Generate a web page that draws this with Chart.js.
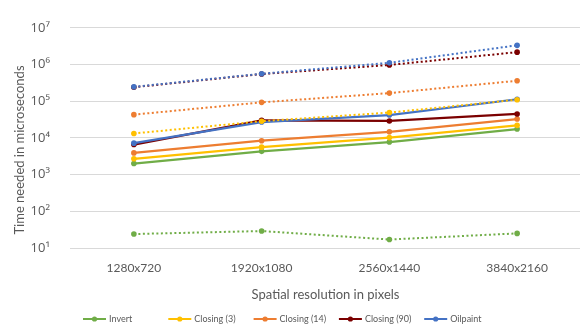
<!DOCTYPE html>
<html>
<head>
<meta charset="utf-8">
<script src="https://cdn.jsdelivr.net/npm/chart.js@4/dist/chart.umd.min.js"></script>
<style>
  html, body { margin: 0; padding: 0; background: #ffffff; overflow: hidden; }
  #wrap { width: 585px; height: 329px; }
</style>
</head>
<body>
<div id="wrap"><canvas id="chart" width="585" height="329"></canvas></div>
<script>
// Image sizes on the horizontal axis
const resolutions = ['1280x720', '1920x1080', '2560x1440', '3840x2160'];

// Operations measured
const operations = ['Invert', 'Closing (3)', 'Closing (14)', 'Closing (90)', 'Oilpaint'];

// Run times in microseconds, solid lines (one array per operation)
const invertSolid     = [2000, 4300, 7700, 17400];
const closing3Solid   = [2700, 5600, 10200, 22000];
const closing14Solid  = [3900, 8400, 14700, 32600];
const closing90Solid  = [6600, 30000, 29000, 45000];
const oilpaintSolid   = [7200, 27000, 42000, 113000];

// Run times in microseconds, dotted lines
const invertDotted    = [24, 29, 17, 25];
const closing3Dotted  = [13200, 28500, 49000, 110000];
const closing14Dotted = [43000, 93000, 166000, 360000];
const closing90Dotted = [240000, 550000, 970000, 2170000];
const oilpaintDotted  = [246000, 560000, 1110000, 3330000];

// Decade ticks of the logarithmic axis and their labels
const decadeValues = [1e1, 1e2, 1e3, 1e4, 1e5, 1e6, 1e7];
const yTickLabels  = ['10¹', '10²', '10³', '10⁴', '10⁵', '10⁶', '10⁷'];

const colors = ['#70AD47', '#FFC000', '#ED7D31', '#7B0000', '#4472C4'];
const solidData  = [invertSolid, closing3Solid, closing14Solid, closing90Solid, oilpaintSolid];
const dottedData = [invertDotted, closing3Dotted, closing14Dotted, closing90Dotted, oilpaintDotted];

const FONT = 'Lato, "Open Sans", sans-serif';
const TICK_FONT = '"Open Sans", Lato, sans-serif';
const TEXT = '#595959';

function makeSet(label, data, color, dotted, order) {
  return {
    label: label,
    data: data,
    borderColor: color,
    backgroundColor: color,
    pointBackgroundColor: color,
    pointBorderColor: color,
    pointBorderWidth: 0,
    pointRadius: 2.8,
    borderWidth: dotted ? 2 : 2.25,
    borderDash: dotted ? [2, 2.5] : [],
    borderCapStyle: 'butt',
    fill: false,
    tension: 0,
    order: order,
    inLegend: !dotted
  };
}

const datasets = [];
operations.forEach((name, i) => {
  datasets.push(makeSet(name, solidData[i], colors[i], false, 20 - i));
});
operations.forEach((name, i) => {
  datasets.push(makeSet(name, dottedData[i], colors[i], true, 10 - i));
});

// Legend row and rotated y-axis title
const decorations = {
  id: 'decorations',
  afterDraw(chart) {
    const ctx = chart.ctx;
    ctx.save();
    // vertical axis title
    ctx.translate(20, 150);
    ctx.rotate(-Math.PI / 2);
    ctx.fillStyle = TEXT;
    ctx.font = '13px ' + FONT;
    ctx.textAlign = 'center';
    ctx.textBaseline = 'middle';
    ctx.fillText('Time needed in microseconds', 0, 0);
    ctx.restore();

    // legend
    const items = chart.data.datasets.filter(d => d.inLegend);
    const y = 319;
    ctx.save();
    ctx.font = '9px ' + FONT;
    ctx.textBaseline = 'middle';
    ctx.textAlign = 'left';
    items.forEach((d, i) => {
      const x0 = 83 + i * 85.3;
      ctx.strokeStyle = d.borderColor;
      ctx.lineWidth = 2;
      ctx.beginPath();
      ctx.moveTo(x0, y);
      ctx.lineTo(x0 + 23, y);
      ctx.stroke();
      ctx.fillStyle = d.borderColor;
      ctx.beginPath();
      ctx.arc(x0 + 11.5, y, 2.6, 0, Math.PI * 2);
      ctx.fill();
      ctx.fillStyle = TEXT;
      ctx.fillText(d.label, x0 + 26, y);
    });
    ctx.restore();
  }
};

new Chart(document.getElementById('chart'), {
  type: 'line',
  data: { labels: resolutions, datasets: datasets },
  options: {
    responsive: false,
    animation: false,
    layout: { padding: { top: 13, left: 0, right: 0, bottom: 0 } },
    plugins: {
      legend: { display: false },
      tooltip: { enabled: false }
    },
    scales: {
      x: {
        type: 'category',
        offset: true,
        grid: { display: false, drawTicks: false },
        border: { display: false },
        ticks: { padding: 13, color: TEXT, font: { family: FONT, size: 12 }, maxRotation: 0 },
        title: {
          display: true,
          text: 'Spatial resolution in pixels',
          color: TEXT,
          font: { family: FONT, size: 13 },
          padding: { top: 0, bottom: 26 }
        },
        afterFit(scale) { scale.height = 81; }
      },
      y: {
        type: 'logarithmic',
        min: 10,
        max: 1e7,
        grid: { color: '#D9D9D9', lineWidth: 1, drawTicks: false },
        border: { display: false },
        afterBuildTicks(scale) {
          scale.ticks = decadeValues.map(v => ({ value: v }));
        },
        ticks: {
          padding: 20,
          color: TEXT,
          font: { family: TICK_FONT, size: 13 },
          callback(value) {
            return yTickLabels[Math.round(Math.log10(value)) - 1];
          }
        },
        afterFit(scale) { scale.width = 70; }
      }
    }
  },
  plugins: [decorations]
});
</script>
</body>
</html>
